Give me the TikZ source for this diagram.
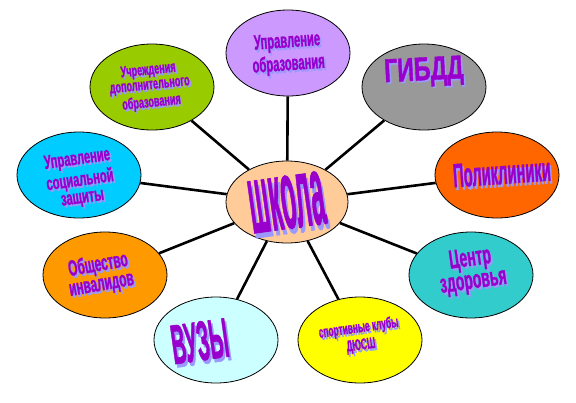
\documentclass[tikz,border=0pt]{standalone}
\usepackage{fontspec}
\setmainfont{Liberation Sans}
\newfontfamily\wafont[FakeStretch=0.7, FakeBold=1.2]{Liberation Sans Bold}
\usepackage{tikz}
\usetikzlibrary{shapes.geometric, positioning}
\definecolor{waText}{RGB}{153,0,204}
\definecolor{waShadow}{RGB}{153,153,255}
\definecolor{schoolFill}{RGB}{255,204,153}
\definecolor{obrazFill}{RGB}{204,153,255}
\definecolor{gibddFill}{RGB}{153,153,153}
\definecolor{polikFill}{RGB}{255,102,0}
\definecolor{centrFill}{RGB}{51,204,204}
\definecolor{sportFill}{RGB}{255,255,0}
\definecolor{vuzyFill}{RGB}{204,255,255}
\definecolor{invalidFill}{RGB}{255,153,0}
\definecolor{soczashFill}{RGB}{0,204,255}
\definecolor{dopobrFill}{RGB}{153,204,0}
\newcommand\wa[1]{\leavevmode\rlap{\kern1.5pt\raisebox{-1.8pt}{\color{waShadow}#1}}{\color{waText}#1}}
\newcommand\wafs[1]{\wafont\fontsize{#1}{1.15\dimexpr#1pt\relax}\selectfont}

\begin{document}
\begin{tikzpicture}[x=1pt, y=-1pt,
    bubble/.style={ellipse, draw=black, line width=0.8pt, inner sep=0pt,
        minimum width=124pt, minimum height=86pt},
    link/.style={line width=2.6pt, black},
    watext/.style={align=center, inner sep=0pt, transform shape}]
    \useasboundingbox (0,0) rectangle (576,402);

    % ellipses
    \node[bubble, fill=schoolFill, minimum width=122pt, minimum height=82pt] (school) at (287,202) {};
    \node[bubble, fill=obrazFill] (obraz) at (288,53) {};
    \node[bubble, fill=gibddFill] (gibdd) at (424,87) {};
    \node[bubble, fill=polikFill] (polik) at (497,175) {};
    \node[bubble, fill=centrFill] (centr) at (471,275) {};
    \node[bubble, fill=sportFill] (sport) at (360,340) {};
    \node[bubble, fill=vuzyFill] (vuzy) at (216,340) {};
    \node[bubble, fill=invalidFill] (invalid) at (105,275) {};
    \node[bubble, fill=soczashFill] (soczash) at (79,175) {};
    \node[bubble, fill=dopobrFill] (dopobr) at (152,87) {};

    % connectors
    \foreach \n in {obraz, gibdd, polik, centr, sport, vuzy, invalid, soczash, dopobr}
        \draw[link] (school) -- (\n);

    % labels
    \node[watext, rotate=8] (school-t) at (287,205)
        {\scalebox{1}[2.8]{\wafs{35}\wa{школа}}};
    \node[watext, rotate=4] (obraz-t) at (288,55)
        {\scalebox{1}[1.3]{\wafs{16}\wa{Управление}}\\\scalebox{1}[1.3]{\wafs{16}\wa{образования}}};
    \node[watext, rotate=3] (gibdd-t) at (424,73)
        {\scalebox{1}[1.0]{\wafs{33}\wa{ГИБДД}}};
    \node[watext, rotate=4] (polik-t) at (502,174)
        {\scalebox{1}[1.6]{\wafs{21}\wa{Поликлиники}}};
    \node[watext, rotate=8] (centr-t) at (472,272)
        {\scalebox{1}[1.3]{\wafs{20}\wa{Центр}}\\\scalebox{1}[1.3]{\wafs{20}\wa{здоровья}}};
    \node[watext, rotate=8] (sport-t) at (360,338)
        {\scalebox{1}[1.3]{\wafs{12}\wa{спортивные клубы}}\\\scalebox{1}[1.3]{\wafs{12}\wa{ДЮСШ}}};
    \node[watext, rotate=8] (vuzy-t) at (200,343)
        {\scalebox{1}[2.0]{\wafs{28}\wa{ВУЗЫ}}};
    \node[watext, rotate=10] (invalid-t) at (100,276)
        {\scalebox{1}[1.3]{\wafs{17}\wa{Общество}}\\\scalebox{1}[1.3]{\wafs{17}\wa{инвалидов}}};
    \node[watext, rotate=8] (soczash-t) at (80,180)
        {\scalebox{1}[1.2]{\wafs{16}\wa{Управление}}\\\scalebox{1}[1.2]{\wafs{16}\wa{социальной}}\\\scalebox{1}[1.2]{\wafs{16}\wa{защиты}}};
    \node[watext, rotate=6] (dopobr-t) at (150,88)
        {\scalebox{1}[1.2]{\wafs{13}\wa{Учреждения}}\\\scalebox{1}[1.2]{\wafs{13}\wa{дополнительного}}\\\scalebox{1}[1.2]{\wafs{13}\wa{образования}}};
\end{tikzpicture}
\end{document}
